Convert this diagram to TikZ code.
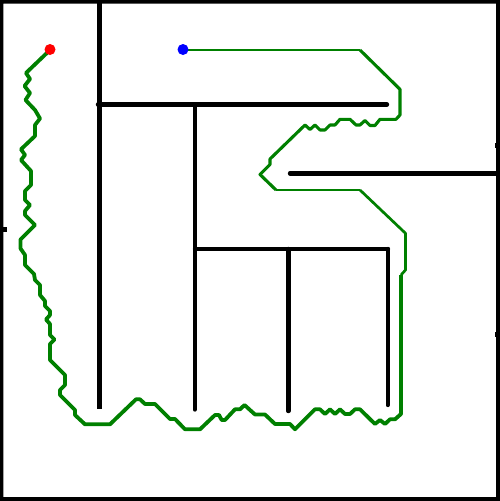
\documentclass[tikz,border=0pt]{standalone}
\begin{document}
\begin{tikzpicture}[x=1pt,y=-1pt,
  wall/.style={line width=4.4pt,line cap=round},
  trail/.style={draw=pathgreen,line join=round},
  dot/.style={circle,inner sep=0pt,minimum size=11pt}]
\definecolor{pathgreen}{RGB}{0,128,0}
\useasboundingbox (0,0) rectangle (500,501);
\fill[white] (0,0) rectangle (500,501);
% frame
\fill[black,even odd rule] (0,0) rectangle (500,501) (3.3,3.5) rectangle (496,497);
\fill[black] (3,227) rectangle (6.7,232);
\fill[black] (494.5,143) rectangle (496.5,148);
\fill[black] (494.5,332) rectangle (496.5,337);
% walls
\draw[wall,line cap=butt] (99.5,2) -- (99.5,409);
\draw[wall] (98,104.5) -- (387,104.5);
\draw[wall] (194.8,104.5) -- (194.8,409.5);
\draw[wall] (290,173.3) -- (496,173.3);
\draw[wall] (195,249) -- (388,249);
\draw[wall] (288.3,249) -- (288.3,411);
\draw[wall] (387.8,249) -- (387.8,405);
% path
\draw[trail,line width=3.8pt] (50,50) -- (26,73) -- (30,79) -- (24.5,86) -- (30,93) -- (25.5,100) -- (35,110) -- (40,118.5) -- (35,125) -- (35,136) -- (21,149.3) -- (25,155) -- (21,160) -- (31,171) -- (31,185) -- (25,191) -- (25,200) -- (30,205) -- (25,211) -- (25,215) -- (35,225) -- (20.5,239.5) -- (20.5,248.5) -- (25,255) -- (25,265) -- (34,274) -- (35,280) -- (40,285) -- (40,295) -- (45,301) -- (45,306) -- (50,311) -- (50,315) -- (46,319.5) -- (50,324) -- (50,335) -- (54.5,339.5) -- (50,344) -- (50,360) -- (65,375) -- (65,385) -- (60,390) -- (60,395) -- (75,410) -- (75,415) -- (85,424.3) -- (110,424.3) -- (136,399.3) -- (140,399.3) -- (145,404) -- (155,404) -- (170,419) -- (175,419) -- (185,429.3) -- (200,429.3) -- (215,415) -- (219,415) -- (221.7,420) -- (225,420) -- (235,409.3) -- (240,409.3) -- (244.5,405) -- (255,414.5) -- (265,414.5) -- (275,424) -- (290,424) -- (295,429.3) -- (315,409.3) -- (320,409.3) -- (325,414) -- (330,409.3) -- (335,414) -- (340,409.3) -- (345,414) -- (350,414) -- (355,409.3) -- (360,409.3) -- (375,424) -- (380,420) -- (385,424) -- (390,419.3) -- (395,419.3) -- (401,414) -- (401,275);
\draw[trail,line width=2.7pt] (401,275) -- (405.5,270) -- (405.5,233.3) -- (360,190);
\draw[trail,line width=2.1pt] (360,190) -- (276,190);
\draw[trail,line width=3.1pt] (276,190) -- (260,174.5) -- (270,164.5) -- (270,159) -- (305,125) -- (310,129.5) -- (315,125) -- (320,130) -- (325,130) -- (330,125) -- (335,125) -- (340,119.3) -- (350,119.3) -- (356,125) -- (360,125) -- (365,120.5) -- (370,125.5) -- (375,125.5) -- (380,119.3) -- (396,119.3) -- (400,115) -- (400,89.3) -- (360,50);
\draw[trail,line width=2.1pt] (360,50) -- (183,50);
% endpoints
\node[dot,fill=red] (start) at (50,49.5) {};
\node[dot,fill=blue] (goal) at (183,49.5) {};
\end{tikzpicture}
\end{document}
